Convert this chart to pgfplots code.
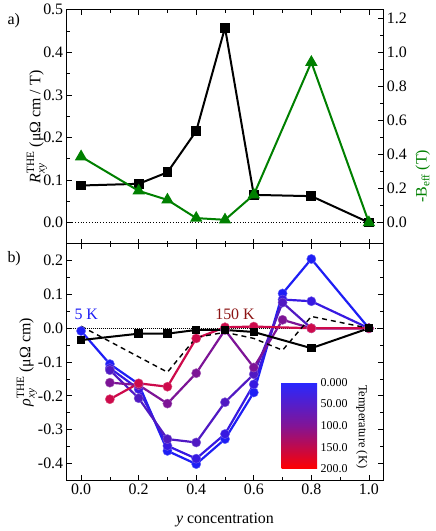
\documentclass[border=0pt]{standalone}
\usepackage{fontspec}
\setmainfont{Liberation Serif}
\usepackage{amsmath}
\usepackage{pgfplots}
\pgfplotsset{compat=1.18}
\definecolor{cA}{RGB}{30,30,245}
\definecolor{cB}{RGB}{55,25,225}
\definecolor{cC}{RGB}{80,25,195}
\definecolor{cD}{RGB}{125,20,150}
\definecolor{cE}{RGB}{205,10,75}
\definecolor{dgreen}{RGB}{0,128,0}
\definecolor{dred}{RGB}{140,20,20}
\pgfplotsset{scale only axis,
  base/.style={width=316.6bp, tick align=inside, major tick length=5bp, minor tick length=3bp,
    tick style={black, line width=0.7bp}, axis line style={line width=0.9bp},
    /pgf/number format/assume math mode=true,
    tick label style={font=\fontsize{16}{16}\selectfont},
    xmin=-0.05, xmax=1.05, xtick={0,0.2,0.4,0.6,0.8,1.0}, minor x tick num=1,
    minor y tick num=1,
    xticklabel style={/pgf/number format/.cd, fixed, fixed zerofill, precision=1},
    yticklabel style={/pgf/number format/.cd, fixed, fixed zerofill, precision=1}},
  ser/.style={line width=2.2bp, mark=*, mark size=4.6bp, color=#1, mark options={fill=#1, draw=#1!70!white, line width=0.4bp}},
}
\begin{document}
\begin{tikzpicture}
\useasboundingbox (-66.7bp,-287.2bp) rectangle (369.3bp,243.8bp);
% ---- panel a, left axis
\begin{axis}[base, name=top, at={(0,0)}, anchor=south west, height=234bp,
  ymin=-0.05, ymax=0.5, ytick={0,0.1,0.2,0.3,0.4,0.5}, ytick pos=left,
  xtick pos=both, xticklabels={},
  every axis y label/.style={at={(axis description cs:-0.083,0.5)}, anchor=base, rotate=90, font=\fontsize{16}{18}\selectfont},
  ylabel={\textit{R}$^{\text{THE}}_{\textit{xy}}$ (μΩ cm / T)}]
\addplot[black, dotted, line width=0.8bp, forget plot] coordinates {(-0.05,0) (1.05,0)};
\addplot[black, line width=2bp, mark=square*, mark size=3.9bp, mark options={fill=black}] coordinates {
(0,0.087) (0.2,0.091) (0.3,0.118) (0.4,0.215) (0.5,0.458) (0.6,0.065) (0.8,0.062) (1.0,0.0)};
\end{axis}
% ---- panel a, right axis
\begin{axis}[base, at={(0,0)}, anchor=south west, height=234bp,
  ymin=-0.125, ymax=1.25, ytick={0,0.2,0.4,0.6,0.8,1.0,1.2},
  axis x line=none, axis y line*=right, tick align=inside,
  every axis y label/.style={at={(axis description cs:1.137,0.288)}, anchor=base, rotate=90, font=\fontsize{16}{18}\selectfont},
  ylabel={\textcolor{dgreen}{-B\textsubscript{eff} (T)}}]
\addplot[dgreen, line width=2bp, mark=triangle*, mark size=5.2bp, mark options={fill=dgreen}] coordinates {
(0,0.387) (0.2,0.186) (0.3,0.133) (0.4,0.026) (0.5,0.016) (0.6,0.163) (0.8,0.942) (1.0,0.0)};
\end{axis}
% ---- panel b
\begin{axis}[base, name=bot, at={(top.south west)}, anchor=north west, height=236.5bp,
  ymin=-0.45, ymax=0.25, ytick={-0.4,-0.3,-0.2,-0.1,0,0.1,0.2}, ytick pos=both, xtick pos=both,
  every axis y label/.style={at={(axis description cs:-0.115,0.5)}, anchor=base, rotate=90, font=\fontsize{16}{18}\selectfont},
  ylabel={{\itshape ρ}$^{\text{THE}}_{\textit{xy}}$ (μΩ cm)},
  every axis x label/.style={at={(axis description cs:0.5,-0.184)}, anchor=base, font=\fontsize{16}{18}\selectfont},
  xlabel={\textit{y} concentration},
  colormap={tempmap}{rgb255=(40,40,255) rgb255=(130,20,150) rgb255=(255,0,0)},
  point meta min=0, point meta max=200,
  colorbar, colorbar/width=35.7bp,
  colorbar style={at={(parent axis.south west)}, anchor=south west, xshift=206.3bp, yshift=11.5bp,
    width=35.7bp, height=86.3bp, y dir=reverse,
    ytick={0,50,100,150,200}, yticklabels={0.000,50.00,100.0,150.0,200.0}, yticklabel pos=right,
    major tick length=0pt, minor tick num=0, axis line style={draw=none},
    /pgf/number format/assume math mode=true,
    tick label style={font=\fontsize{12}{12}\selectfont}}]
\addplot[black, dash pattern=on 1bp off 1bp, line width=0.8bp, forget plot] coordinates {(-0.05,0) (1.05,0)};
\addplot[ser=cA] coordinates {(0,-0.008) (0.1,-0.106) (0.2,-0.165) (0.3,-0.363) (0.4,-0.402) (0.5,-0.328) (0.6,-0.19) (0.7,0.103) (0.8,0.205) (1.0,0)};
\addplot[ser=cB] coordinates {(0.1,-0.118) (0.2,-0.18) (0.3,-0.348) (0.4,-0.386) (0.5,-0.313) (0.6,-0.166) (0.7,0.085) (0.8,0.08) (1.0,0)};
\addplot[ser=cC] coordinates {(0.1,-0.124) (0.2,-0.207) (0.3,-0.328) (0.4,-0.338) (0.5,-0.219) (0.6,-0.136) (0.7,0.076) (0.8,0.0) (1.0,0)};
\addplot[ser=cD] coordinates {(0.1,-0.161) (0.2,-0.168) (0.3,-0.223) (0.4,-0.133) (0.5,-0.005) (0.6,-0.116) (0.7,0.025) (0.8,0.0) (1.0,0)};
\addplot[ser=cE] coordinates {(0.1,-0.21) (0.2,-0.163) (0.3,-0.173) (0.4,-0.030) (0.5,0.003) (0.6,0.005) (0.8,0.0) (1.0,0)};
\addplot[black, line width=1.4bp, dash pattern=on 5bp off 4bp] coordinates {(0,0.006) (0.3,-0.13) (0.4,-0.027) (0.5,-0.012) (0.6,-0.03) (0.7,-0.065) (0.8,0.035) (1.0,0)};
\addplot[black, line width=2bp, mark=square*, mark size=3.2bp, mark options={fill=black, solid}] coordinates {(0,-0.035) (0.2,-0.016) (0.3,-0.016) (0.4,-0.005) (0.5,-0.005) (0.6,-0.011) (0.8,-0.059) (1.0,0)};
\node[text=cA, anchor=base west, font=\fontsize{16}{16}\selectfont] at (axis cs:-0.035,0.025) {5 K};
\node[text=dred, anchor=base west, font=\fontsize{16}{16}\selectfont] at (axis cs:0.454,0.025) {150 K};
\node[rotate=-90, anchor=base, font=\fontsize{12.5}{14}\selectfont] at (axis cs:0.965,-0.291) {Temperature (K)};
\end{axis}
\node[anchor=base west, xshift=-62.7bp, yshift=-15.2bp, font=\fontsize{16}{16}\selectfont] at (top.north west) {a)};
\node[anchor=base west, xshift=-62.7bp, yshift=-19bp, font=\fontsize{16}{16}\selectfont] at (bot.north west) {b)};
\end{tikzpicture}
\end{document}
